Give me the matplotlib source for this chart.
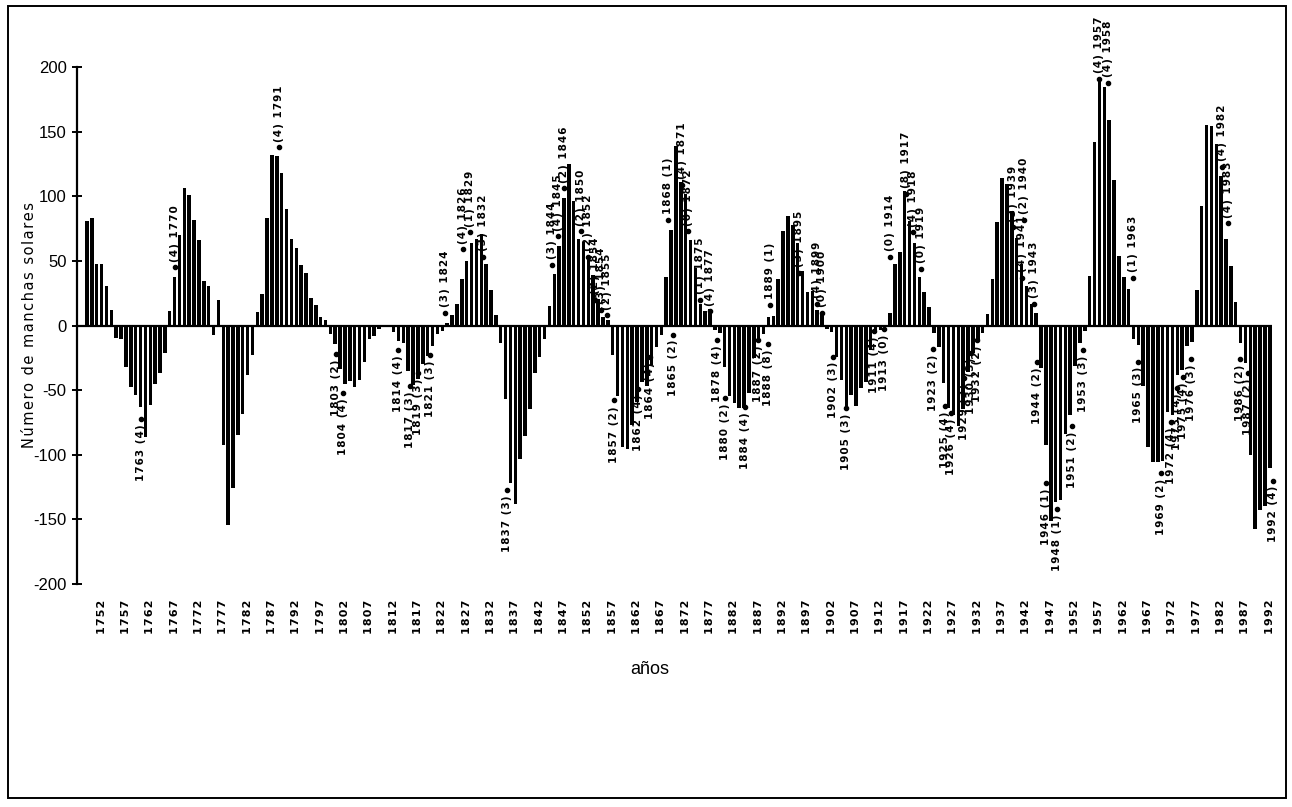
import numpy as np
import matplotlib
matplotlib.use("Agg")
import matplotlib.pyplot as plt
from matplotlib import font_manager
from matplotlib.patches import Rectangle

# Yearly sunspot numbers, signed by alternating solar cycle (1749-1992)
first_year = 1749
values = [
    80.9, 83.4, 47.7, 47.8, 30.7, 12.2,                                   # 1749-1754
    -9.6, -10.2, -32.4, -47.6, -54.0, -62.9, -85.9, -61.2, -45.1, -36.4, -20.9,  # 1755-1765
    11.4, 37.8, 69.8, 106.1, 100.8, 81.6, 66.5, 34.8, 30.6,               # 1766-1774
    -7.0, 19.8,                                                           # 1775-1776
    -92.5, -154.4, -125.9, -84.8, -68.1, -38.5, -22.8,                    # 1777-1783
    10.2, 24.1, 82.9, 132.0, 130.9, 118.1, 89.9, 66.6, 60.0, 46.9, 41.0,
    21.3, 16.0, 6.4, 4.1,                                                 # 1784-1798
    -6.8, -14.5, -34.0, -45.0, -43.1, -47.5, -42.2, -28.1, -10.1, -8.1,
    -2.5, -0.3, -1.4, -5.0, -12.2, -13.9, -35.4, -45.8, -41.1, -30.1,
    -23.9, -15.6, -6.6, -4.0,                                             # 1799-1822
    1.8, 8.5, 16.6, 36.3, 49.6, 64.2, 67.0, 70.9, 47.8, 27.5, 8.5,        # 1823-1833
    -13.2, -56.9, -121.5, -138.3, -103.2, -85.7, -64.6, -36.7, -24.2, -10.7,  # 1834-1843
    15.0, 40.1, 61.5, 98.5, 124.7, 96.3, 66.6, 64.5, 54.1, 39.0, 20.6, 6.7, 4.3,  # 1844-1856
    -22.7, -54.8, -93.8, -95.8, -77.2, -59.1, -44.0, -47.0, -30.5, -16.3, -7.3,  # 1857-1867
    37.6, 74.0, 139.0, 111.2, 101.6, 66.2, 44.7, 17.0, 11.3, 12.4,        # 1868-1877
    -3.4, -6.0, -32.3, -54.3, -59.7, -63.7, -63.5, -52.2, -25.4, -13.1, -6.8,  # 1878-1888
    6.3, 7.1, 35.6, 73.0, 85.1, 78.0, 64.0, 41.8, 26.2, 26.7, 12.1, 9.5,  # 1889-1900
    -2.7, -5.0, -24.4, -42.0, -63.5, -53.8, -62.0, -48.5, -43.9, -18.6, -5.7, -3.6, -1.4,  # 1901-1913
    9.6, 47.4, 57.1, 103.9, 80.6, 63.6, 37.6, 26.1, 14.2,                 # 1914-1922
    -5.8, -16.7, -44.3, -63.9, -69.0, -77.8, -64.9, -35.7, -21.2, -11.1, -5.7,  # 1923-1933
    8.7, 36.1, 79.7, 114.4, 109.6, 88.8, 67.8, 47.5, 30.6, 16.3, 9.6,     # 1934-1944
    -33.2, -92.6, -151.6, -136.3, -134.7, -83.9, -69.4, -31.5, -13.9, -4.4,  # 1945-1954
    38.0, 141.7, 190.2, 184.8, 159.0, 112.3, 53.9, 37.5, 27.9,            # 1955-1963
    -10.2, -15.1, -47.0, -93.8, -105.9, -105.5, -104.5, -66.6, -68.9, -38.0,
    -34.5, -15.5, -12.6,                                                  # 1964-1976
    27.5, 92.5, 155.4, 154.6, 140.4, 115.9, 66.6, 45.9, 17.9,             # 1977-1985
    -13.4, -29.4, -100.2, -157.6, -143.0, -140.0, -110.0,                 # 1986-1992
]
years = np.arange(first_year, first_year + len(values))

tick_years = list(range(1752, 1993, 5))
y_ticks = [-200, -150, -100, -50, 0, 50, 100, 150, 200]

# Annotated records: label, position along the year axis, value of the marker
note_labels = [
    "1763 (4)", "(4) 1770", "(4) 1791", "1803 (2)", "1804 (4)",
    "1814 (4)", "1817 (3)", "1819 (3)", "1821 (3)", "(3) 1824",
    "(4) 1826", "(1) 1829", "(3) 1832", "1837 (3)", "(3) 1844",
    "(4) 1845", "(2) 1846", "(2) 1850", "(2) 1852", "(2) 1854",
    "(3) 1854", "(2) 1855", "1857 (2)", "1862 (4)", "1864 (4)",
    "1865 (2)", "1868 (1)", "(4) 1871", "(0) 1872", "(1) 1875",
    "(4) 1877", "1878 (4)", "1880 (2)", "1884 (4)", "1887 (2)",
    "1888 (8)", "1889 (1)", "(3) 1895", "(4) 1899", "(0) 1900",
    "1902 (3)", "1905 (3)", "1911 (4)", "1913 (0)", "(0) 1914",
    "(8) 1917", "(4) 1918", "(0) 1919", "1923 (2)", "1925 (4)",
    "1926 (4)", "1929 (3)", "1930 (3)", "1932 (2)", "(3) 1939",
    "(2) 1940", "(4) 1941", "(3) 1943", "1944 (2)", "1946 (1)",
    "1948 (1)", "1951 (2)", "1953 (3)", "(4) 1957", "(4) 1958",
    "(1) 1963", "1965 (3)", "1969 (2)", "1972 (4)", "1973 (4)",
    "1975 (4)", "1976 (3)", "(4) 1982", "(4) 1983", "1986 (2)",
    "1987 (2)", "1992 (4)",
]
note_x = [
    1760.2, 1767.1, 1788.4, 1800.1, 1801.6,
    1812.9, 1815.3, 1817.0, 1819.4, 1822.5,
    1826.2, 1827.6, 1830.3, 1835.2, 1844.5,
    1845.7, 1847.0, 1850.4, 1851.9, 1853.4,
    1854.6, 1855.8, 1857.2, 1862.2, 1864.7,
    1869.4, 1868.4, 1871.2, 1872.5, 1875.0,
    1877.0, 1878.4, 1880.1, 1884.2, 1886.9,
    1888.9, 1889.3, 1895.3, 1898.9, 1900.1,
    1902.3, 1905.0, 1910.7, 1912.8, 1914.0,
    1917.3, 1918.8, 1920.3, 1922.9, 1925.2,
    1926.6, 1929.2, 1930.7, 1931.9, 1939.2,
    1941.6, 1941.0, 1943.6, 1944.1, 1946.1,
    1948.2, 1951.3, 1953.7, 1956.9, 1958.8,
    1963.9, 1964.9, 1969.6, 1971.8, 1973.0,
    1974.2, 1975.9, 1982.1, 1983.4, 1985.8,
    1987.5, 1992.6,
]
note_y = [
    -72, 45, 138, -22, -52,
    -19, -47, -37, -23, 10,
    59, 72, 53, -127, 47,
    69, 106, 73, 53, 20,
    12, 8, -58, -49, -24,
    -7, 82, 109, 73, 20,
    11, -11, -56, -63, -11,
    -14, 16, 41, 17, 10,
    -24, -64, -4, -3, 53,
    102, 72, 44, -18, -62,
    -68, -41, -21, -11, 76,
    82, 37, 17, -28, -122,
    -142, -78, -19, 191, 188,
    37, -28, -114, -75, -48,
    -40, -26, 123, 79, -26,
    -37, -120,
]


def spaced(text):
    return "\u200a".join(text)


names = {f.name for f in font_manager.fontManager.ttflist}
narrow = "Liberation Sans Narrow" if "Liberation Sans Narrow" in names else "Liberation Sans"

W, H = 1292, 807
fig = plt.figure(figsize=(W / 100, H / 100), dpi=100)
fig.patch.set_facecolor("white")

ax_left, ax_right, ax_top, ax_bottom = 77, 1272, 67, 584
ax = fig.add_axes([ax_left / W, 1 - ax_bottom / H,
                   (ax_right - ax_left) / W, (ax_bottom - ax_top) / H])

ax.bar(years, values, width=0.72, color="black", linewidth=0)
ax.axhline(0, color="black", linewidth=1.6, zorder=3)

ax.set_xlim(first_year - 2.05, years[-1] + 0.45)
ax.set_ylim(-200, 200)

for side in ("top", "right", "bottom"):
    ax.spines[side].set_visible(False)
ax.spines["left"].set_linewidth(1.6)

ax.set_yticks(y_ticks)
ax.set_yticklabels([str(v) for v in y_ticks], family=narrow, fontsize=12)
ax.tick_params(axis="y", direction="inout", length=7, width=1.4, pad=4)

ax.set_xticks(tick_years)
ax.set_xticklabels([spaced(str(y)) for y in tick_years], rotation=90,
                   fontsize=8, fontweight="bold", va="top")
ax.tick_params(axis="x", length=0, pad=11)

# Markers and their labels
ax.plot(note_x, note_y, "o", color="black", markersize=3, zorder=4, clip_on=False)
for lab, x, y in zip(note_labels, note_x, note_y):
    up = y > 0
    ax.annotate(spaced(lab), (x, y), xytext=(0, 4 if up else -4),
                textcoords="offset points", rotation=90, ha="center",
                va="bottom" if up else "top", fontsize=7.5, fontweight="bold",
                annotation_clip=False)

fig.text(30 / W, 1 - 325 / H, spaced("Número de manchas solares"), rotation=90,
         ha="center", va="center", fontsize=10.5)
fig.text(650 / W, 1 - 670 / H, "años", ha="center", va="center",
         family=narrow, fontsize=13)

fig.patches.append(Rectangle((8 / W, 1 - 798 / H), (1286 - 8) / W, (798 - 6) / H,
                             transform=fig.transFigure, fill=False,
                             edgecolor="black", linewidth=1.4))

fig.savefig("out.png", dpi=100)
